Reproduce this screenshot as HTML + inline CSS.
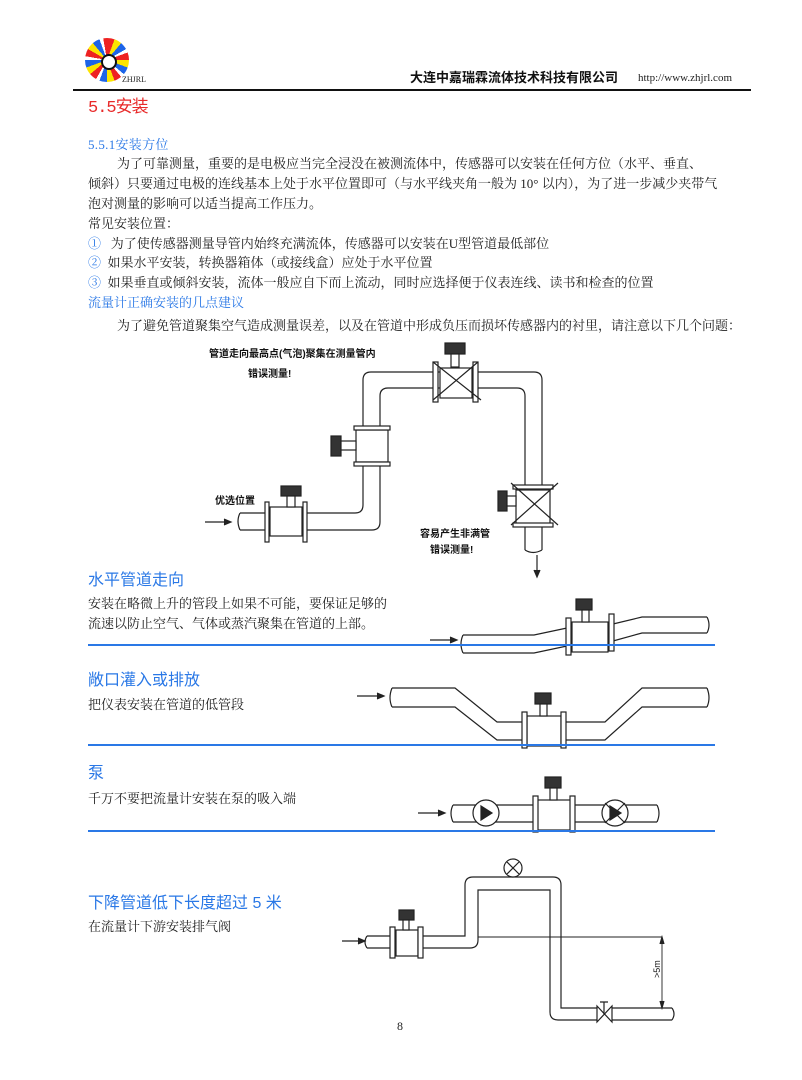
<!DOCTYPE html>
<html><head><meta charset="utf-8"><style>
body{margin:0;width:802px;height:1080px;background:#fff;position:relative;overflow:hidden;font-family:"Liberation Serif","Noto Serif CJK SC",serif;}
.t{position:absolute;white-space:nowrap;font-size:13px;color:#222;line-height:1;}
.blue{color:#2a78e6;}
.h{font-family:"Liberation Sans","Noto Sans CJK SC",sans-serif;font-size:16px;color:#2a78e6;}
.b{font-family:"Liberation Sans","Noto Sans CJK SC",sans-serif;font-weight:bold;font-size:10px;color:#111;}
svg{position:absolute;left:0;top:0;}
</style></head><body>
<div style="position:absolute;left:85px;top:38px;width:44px;height:44px;border-radius:50%;background:repeating-conic-gradient(#e22 0 20deg,#fbe400 20deg 40deg,#1d64e8 40deg 60deg,#fff 60deg 70deg);"></div>
<div style="position:absolute;left:101px;top:54px;width:12px;height:12px;border-radius:50%;background:#fff;border:2px solid #111;"></div>
<div class="t" style="left:122px;top:76px;font-size:8px;">ZHJRL</div>
<div class="t" style="left:410px;top:71px;font-size:13px;font-weight:bold;font-family:'Liberation Sans','Noto Sans CJK SC',sans-serif;color:#111">大连中嘉瑞霖流体技术科技有限公司</div>
<div class="t" style="left:638px;top:73px;font-size:11px;">http://www.zhjrl.com</div>
<div style="position:absolute;left:73px;top:89px;width:678px;height:2px;background:#111"></div>
<div class="t" style="left:88px;top:100px;font-size:17px;color:#e82a2a;font-family:'Liberation Mono','Noto Sans CJK SC',monospace;letter-spacing:-1px">5.5安装</div>
<div class="t blue" style="left:88px;top:138px;font-size:13px;letter-spacing:0.3px">5.5.1安装方位</div>
<div class="t" style="left:117px;top:157px;">为了可靠测量，重要的是电极应当完全浸没在被测流体中，传感器可以安装在任何方位（水平、垂直、</div>
<div class="t" style="left:88px;top:177px;">倾斜）只要通过电极的连线基本上处于水平位置即可（与水平线夹角一般为 10° 以内），为了进一步减少夹带气</div>
<div class="t" style="left:88px;top:197px;">泡对测量的影响可以适当提高工作压力。</div>
<div class="t" style="left:88px;top:217px;">常见安装位置：</div>
<div class="t" style="left:88px;top:237px;"><span class="blue">①</span>&nbsp;&nbsp;&nbsp;为了使传感器测量导管内始终充满流体，传感器可以安装在U型管道最低部位</div>
<div class="t" style="left:88px;top:256px;"><span class="blue">②</span>&nbsp;&nbsp;如果水平安装，转换器箱体（或接线盒）应处于水平位置</div>
<div class="t" style="left:88px;top:276px;"><span class="blue">③</span>&nbsp;&nbsp;如果垂直或倾斜安装，流体一般应自下而上流动，同时应选择便于仪表连线、读书和检查的位置</div>
<div class="t blue" style="left:88px;top:296px;">流量计正确安装的几点建议</div>
<div class="t" style="left:117px;top:319px;">为了避免管道聚集空气造成测量误差，以及在管道中形成负压而损坏传感器内的衬里，请注意以下几个问题：</div>

<div class="t b" style="left:209px;top:350px;">管道走向最高点(气泡)聚集在测量管内</div>
<div class="t b" style="left:248px;top:370px;">错误测量!</div>
<div class="t b" style="left:215px;top:497px;">优选位置</div>
<div class="t b" style="left:420px;top:530px;">容易产生非满管</div>
<div class="t b" style="left:430px;top:546px;">错误测量!</div>

<div class="t h" style="left:88px;top:573px;">水平管道走向</div>
<div class="t" style="left:88px;top:597px;">安装在略微上升的管段上如果不可能，要保证足够的</div>
<div class="t" style="left:88px;top:617px;">流速以防止空气、气体或蒸汽聚集在管道的上部。</div>
<div class="t h" style="left:88px;top:673px;">敞口灌入或排放</div>
<div class="t" style="left:88px;top:698px;">把仪表安装在管道的低管段</div>
<div class="t h" style="left:88px;top:766px;">泵</div>
<div class="t" style="left:88px;top:792px;">千万不要把流量计安装在泵的吸入端</div>
<div class="t h" style="left:88px;top:896px;">下降管道低下长度超过 5 米</div>
<div class="t" style="left:88px;top:920px;">在流量计下游安装排气阀</div>
<div class="t" style="left:397px;top:1020px;font-size:12px;">8</div>

<svg width="802" height="1080" viewBox="0 0 802 1080" fill="none" stroke="#222" stroke-width="1.2">
<path d="M240 513 H355 Q363 513 363 505 V380 Q363 372 371 372 H534 Q542 372 542 380 V550"/>
<path d="M240 530 H372 Q380 530 380 522 V396 Q380 388 388 388 H517 Q525 388 525 396 V550"/>
<path d="M240 513 q-4 8 0 17"/>
<path d="M525 550 q8 5 17 0"/>
<rect x="270" y="507" width="32" height="29" fill="#fff"/>
<rect x="265" y="502" width="4" height="40" fill="#fff"/><rect x="303" y="502" width="4" height="40" fill="#fff"/>
<rect x="281" y="486" width="20" height="10" fill="#333"/><rect x="287" y="496" width="8" height="11" fill="#fff"/>
<rect x="356" y="430" width="32" height="32" fill="#fff"/>
<rect x="354" y="426" width="36" height="4" fill="#fff"/><rect x="354" y="462" width="36" height="4" fill="#fff"/>
<rect x="331" y="436" width="10" height="20" fill="#333"/><rect x="341" y="441" width="15" height="9" fill="#fff"/>
<rect x="440" y="368" width="32" height="30" fill="#fff"/>
<rect x="433" y="362" width="5" height="40" fill="#fff"/><rect x="473" y="362" width="5" height="40" fill="#fff"/>
<rect x="445" y="343" width="20" height="11" fill="#333"/><rect x="451" y="354" width="8" height="13" fill="#fff"/>
<path d="M433 362 L481 400 M478 362 L433 400"/>
<rect x="516" y="490" width="34" height="34" fill="#fff"/>
<rect x="513" y="485" width="40" height="4" fill="#fff"/><rect x="513" y="523" width="40" height="4" fill="#fff"/>
<rect x="498" y="491" width="9" height="20" fill="#333"/><rect x="507" y="496" width="9" height="10" fill="#fff"/>
<path d="M511 483 L558 525 M558 483 L511 525"/>
<path d="M205 522 H230 M224 519 L231 522 L224 525" fill="#222"/>
<path d="M537 555 V576 M534 570 L537 577 L540 570" fill="#222"/>

<path d="M463 635 H534 L567 628 M613 624 L642 617 H707 M463 653 H534 L567 646 M613 641 L642 633 H707"/>
<path d="M463 635 q-4 9 0 18 M707 617 q4 8 0 16"/>
<rect x="572" y="622" width="36" height="30" fill="#fff"/>
<rect x="566" y="618" width="5" height="37" fill="#fff"/><rect x="609" y="614" width="5" height="37" fill="#fff"/>
<rect x="576" y="599" width="16" height="11" fill="#333"/><rect x="582" y="610" width="7" height="12" fill="#fff"/>
<path d="M430 640 H456 M450 637 L457 640 L450 643" fill="#222"/>
<line x1="88" y1="645" x2="715" y2="645" stroke="#2a78e6" stroke-width="2"/>

<path d="M392 688 H455 L497 722 H605 L642 688 H707 M392 707 H455 L497 740 H605 L642 707 H707"/>
<path d="M392 688 q-4 10 0 19 M707 688 q4 10 0 19"/>
<rect x="527" y="716" width="34" height="30" fill="#fff"/>
<rect x="522" y="712" width="5" height="36" fill="#fff"/><rect x="561" y="712" width="5" height="36" fill="#fff"/>
<rect x="535" y="693" width="16" height="11" fill="#333"/><rect x="540" y="704" width="7" height="12" fill="#fff"/>
<path d="M357 696 H383 M377 693 L384 696 L377 699" fill="#222"/>
<line x1="88" y1="745" x2="715" y2="745" stroke="#2a78e6" stroke-width="2"/>

<path d="M453 805 H657 M453 822 H657"/>
<path d="M453 805 q-4 8 0 17 M657 805 q4 8 0 17"/>
<circle cx="486" cy="813" r="13" fill="#fff"/><path d="M481 806 L492 813 L481 820Z" fill="#222"/>
<circle cx="615" cy="813" r="13" fill="#fff"/><path d="M610 806 L621 813 L610 820Z" fill="#222"/><path d="M605 803 L625 823 M625 803 L605 823"/>
<rect x="537" y="800" width="34" height="30" fill="#fff"/>
<rect x="533" y="796" width="5" height="36" fill="#fff"/><rect x="570" y="796" width="5" height="36" fill="#fff"/>
<rect x="545" y="777" width="16" height="11" fill="#333"/><rect x="550" y="788" width="7" height="12" fill="#fff"/>
<path d="M418 813 H444 M438 810 L445 813 L438 816" fill="#222"/>
<line x1="88" y1="831" x2="715" y2="831" stroke="#2a78e6" stroke-width="2"/>

<path d="M367 936 H465 V885 Q465 877 473 877 H553 Q561 877 561 885 V1008 H597 M612 1008 H672"/>
<path d="M367 948 H470 Q478 948 478 940 V890 H550 V1012 Q550 1020 558 1020 H597 M612 1020 H672"/>
<path d="M367 936 q-4 6 0 12 M672 1008 q4 6 0 12"/>
<path d="M597 1006 L612 1022 V1006 L597 1022Z" fill="#fff"/><path d="M604 1014 V1002 M600 1002 H608"/>
<circle cx="513" cy="868" r="9" fill="#fff"/><path d="M507 862 L519 874 M519 862 L507 874"/>
<rect x="396" y="930" width="22" height="26" fill="#fff"/>
<rect x="390" y="927" width="5" height="31" fill="#fff"/><rect x="418" y="927" width="5" height="31" fill="#fff"/>
<rect x="399" y="910" width="15" height="10" fill="#333"/><rect x="403" y="920" width="6" height="10" fill="#fff"/>
<path d="M342 941 H364 M358 938 L365 941 L358 944" fill="#222"/>
<path d="M478 937 H662 V1008" stroke-width="0.9"/>
<path d="M660 944 L662 937 L664 944 M660 1001 L662 1008 L664 1001" fill="#222"/>
<text x="0" y="0" transform="translate(660,978) rotate(-90)" font-size="9" fill="#222" stroke="none" font-family="Liberation Sans">&gt;5m</text>
</svg>
</body></html>
